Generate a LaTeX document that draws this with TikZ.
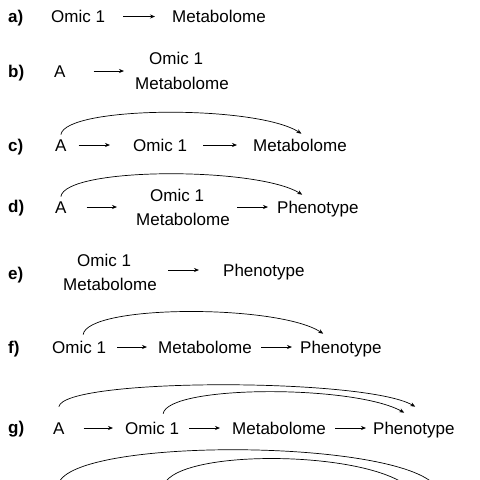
\documentclass[tikz,border=0pt]{standalone}
\usepackage{fontspec}
\setmainfont{Liberation Sans}
\usetikzlibrary{calc,arrows.meta}
\tikzset{
  t/.style={anchor=west, inner sep=0pt, text height=12.2pt, text depth=0pt, font=\fontsize{17}{20}\selectfont},
  lab/.style={t, font=\fontsize{17}{20}\selectfont\bfseries},
  arr/.style={line width=0.7pt, -{Stealth[length=5pt,width=4pt]}},
}
\begin{document}
\begin{tikzpicture}[x=1pt, y={(0,-1pt)}]
\useasboundingbox (0,0) rectangle (480,480);
\clip (0,0) rectangle (480,480);
% a
\node[lab] (la) at (8,16.5) {a)};
\node[t] (aO) at (51,16.5) {Omic 1};
\node[t] (aM) at (172,16.5) {Metabolome};
\draw[arr] ($(aO.east)+(18,0)$) -- ($(aM.west)+(-17,0)$);
% b
\node[lab] (lb) at (8,71) {b)};
\node[t] (bA) at (54,71) {A};
\node[t] (bO) at (149,58) {Omic 1};
\node[t] (bM) at (135,83) {Metabolome};
\draw[arr] ($(bA.east)+(28,0)$) -- ($(bA.east -| bM.west)+(-11,0)$);
% c
\node[lab] (lc) at (8,145) {c)};
\node[t] (cA) at (55,145) {A};
\node[t] (cO) at (133,145) {Omic 1};
\node[t] (cM) at (253,145) {Metabolome};
\draw[arr] ($(cA.east)+(12,0)$) -- ($(cO.west)+(-23,0)$);
\draw[arr] ($(cO.east)+(16,0)$) -- ($(cM.west)+(-16,0)$);
\draw[arr] ($(cA.north)+(0,-4)$) .. controls +(4,-29) and +(-45,-29) .. ($(cM.north)+(1.5,-5)$);
% d
\node[lab] (ld) at (8,206) {d)};
\node[t] (dA) at (55,207) {A};
\node[t] (dO) at (150,195) {Omic 1};
\node[t] (dM) at (136,219) {Metabolome};
\node[t] (dP) at (277,207) {Phenotype};
\draw[arr] ($(dA.east)+(20,0)$) -- ($(dA.east -| dM.west)+(-19,0)$);
\draw[arr] ($(dP.west -| dM.east)+(7.5,0)$) -- ($(dP.west)+(-9,0)$);
\draw[arr] ($(dA.north)+(0,-4)$) .. controls +(4,-30) and +(-45,-28) .. ($(dP.north)+(-15.6,-6)$);
% e
\node[lab] (le) at (8,273) {e)};
\node[t] (eO) at (77,260) {Omic 1};
\node[t] (eM) at (63,284.5) {Metabolome};
\node[t] (eP) at (223,270) {Phenotype};
\draw[arr] ($(eP.west -| eM.east)+(11.5,0)$) -- ($(eP.west)+(-24,0)$);
% f
\node[lab] (lf) at (8,347) {f)};
\node[t] (fO) at (52,347) {Omic 1};
\node[t] (fM) at (158,347) {Metabolome};
\node[t] (fP) at (300,347) {Phenotype};
\draw[arr] ($(fO.east)+(11,0)$) -- ($(fM.west)+(-11,0)$);
\draw[arr] ($(fM.east)+(9.5,0)$) -- ($(fP.west)+(-8,0)$);
\draw[arr] ($(fO.north)+(4,-6)$) .. controls +(4,-30.5) and +(-45,-29.5) .. ($(fP.north)+(-17.6,-7)$);
% g
\node[lab] (lg) at (8,427) {g)};
\node[t] (gA) at (53,428) {A};
\node[t] (gO) at (125,428) {Omic 1};
\node[t] (gM) at (232,428) {Metabolome};
\node[t] (gP) at (373,428) {Phenotype};
\draw[arr] ($(gA.east)+(19,0)$) -- ($(gO.west)+(-12,0)$);
\draw[arr] ($(gO.east)+(10,0)$) -- ($(gM.west)+(-12,0)$);
\draw[arr] ($(gM.east)+(9.5,0)$) -- ($(gP.west)+(-7,0)$);
\draw[arr] ($(gA.north)+(0,-15)$) .. controls +(5,-29) and +(-50,-29) .. ($(gP.north)+(1.4,-15)$);
\draw[arr] ($(gO.north)+(11,-8)$) .. controls +(5,-29) and +(-50,-28) .. ($(gP.north)+(-9.6,-9)$);
% h (cut off)
\coordinate (hA) at (58,486);
\coordinate (hP1) at (436,486);
\coordinate (hO) at (163,488);
\coordinate (hP2) at (410,488);
\draw[arr] (hA) .. controls +(5,-48) and +(-50,-48) .. (hP1);
\draw[arr] (hO) .. controls +(5,-39) and +(-50,-39) .. (hP2);
\end{tikzpicture}
\end{document}
